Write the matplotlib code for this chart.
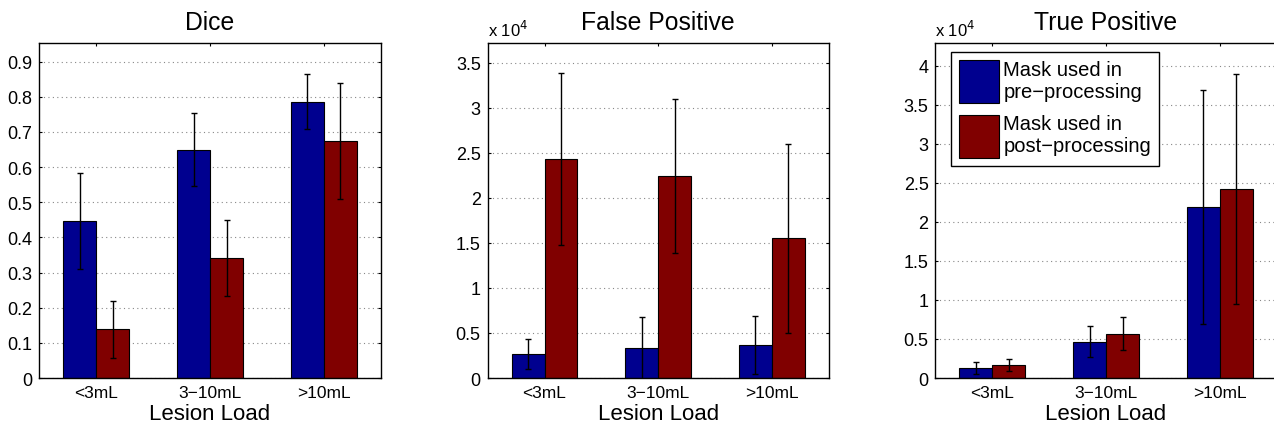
import numpy as np
import matplotlib
matplotlib.use("Agg")
import matplotlib.pyplot as plt

plt.rcParams['font.family'] = ['Liberation Sans', 'DejaVu Sans']

groups = ["<3mL", "3\u221210mL", ">10mL"]
labels = ["Mask used in\npre\u2212processing", "Mask used in\npost\u2212processing"]

# Dice
dice_pre = [0.446, 0.649, 0.786]
dice_pre_err = [0.137, 0.104, 0.078]
dice_post = [0.138, 0.341, 0.674]
dice_post_err = [0.080, 0.109, 0.166]

# False positive (x 10^4)
fp_pre = [0.263, 0.334, 0.367]
fp_pre_err = [0.165, 0.340, 0.322]
fp_post = [2.432, 2.243, 1.550]
fp_post_err = [0.950, 0.858, 1.050]

# True positive (x 10^4)
tp_pre = [0.128, 0.466, 2.186]
tp_pre_err = [0.072, 0.195, 1.497]
tp_post = [0.167, 0.569, 2.421]
tp_post_err = [0.075, 0.210, 1.476]

BLUE = "#00008f"
RED = "#800000"
W = 0.29

fig = plt.figure(figsize=(12.74, 4.27), dpi=100)
lefts = [0.031, 0.3828, 0.7343]
panels = [
    ("Dice", dice_pre, dice_pre_err, dice_post, dice_post_err, 0.953, np.arange(0, 0.91, 0.1), False),
    ("False Positive", fp_pre, fp_pre_err, fp_post, fp_post_err, 3.72, np.arange(0, 3.51, 0.5), True),
    ("True Positive", tp_pre, tp_pre_err, tp_post, tp_post_err, 4.29, np.arange(0, 4.01, 0.5), True),
]

for i, (title, pre, pre_e, post, post_e, ymax, yt, sci) in enumerate(panels):
    ax = fig.add_axes([lefts[i], 0.1124, 0.2677, 0.7846])
    x = np.arange(1, 4)
    ax.bar(x - W / 2, pre, W, color=BLUE, edgecolor="black", linewidth=0.8, label=labels[0], zorder=2)
    ax.bar(x + W / 2, post, W, color=RED, edgecolor="black", linewidth=0.8, label=labels[1], zorder=2)
    ax.errorbar(x - W / 2, pre, yerr=pre_e, fmt="none", ecolor="black", elinewidth=1, capsize=2.5, capthick=1, zorder=3)
    ax.errorbar(x + W / 2, post, yerr=post_e, fmt="none", ecolor="black", elinewidth=1, capsize=2.5, capthick=1, zorder=3)
    ax.set_xlim(0.5, 3.5)
    ax.set_ylim(0, ymax)
    ax.set_xticks(x)
    ax.set_xticklabels(groups, fontsize=12.5)
    ax.set_yticks(yt)
    if sci:
        ax.set_yticklabels(["0"] + [("%g" % v) for v in yt[1:]], fontsize=13)
        ax.text(0.0, 1.012, r"x 10$^4$", transform=ax.transAxes, fontsize=12, ha="left", va="bottom")
    else:
        ax.set_yticklabels(["0"] + [("%.1f" % v) for v in yt[1:]], fontsize=13)
    ax.yaxis.grid(True, linestyle=(0, (1, 3)), color="#888888", linewidth=0.8, zorder=0)
    ax.set_axisbelow(True)
    ax.tick_params(direction="in", length=2.5, width=0.8, top=True, right=True, pad=5)
    for s in ax.spines.values():
        s.set_linewidth(1.0)
    ax.set_title(title, fontsize=17.8, pad=10)
    ax.set_xlabel("Lesion Load", fontsize=16, labelpad=2)
    if i == 2:
        ax.legend(loc="upper left", bbox_to_anchor=(0.045, 0.974), borderaxespad=0,
                  fontsize=14.5, fancybox=False, edgecolor="black", framealpha=1,
                  handlelength=2.0, handleheight=2.9, handletextpad=0.2,
                  borderpad=0.4, labelspacing=0.55).get_frame().set_linewidth(1.0)

fig.savefig("out.png", dpi=100)
